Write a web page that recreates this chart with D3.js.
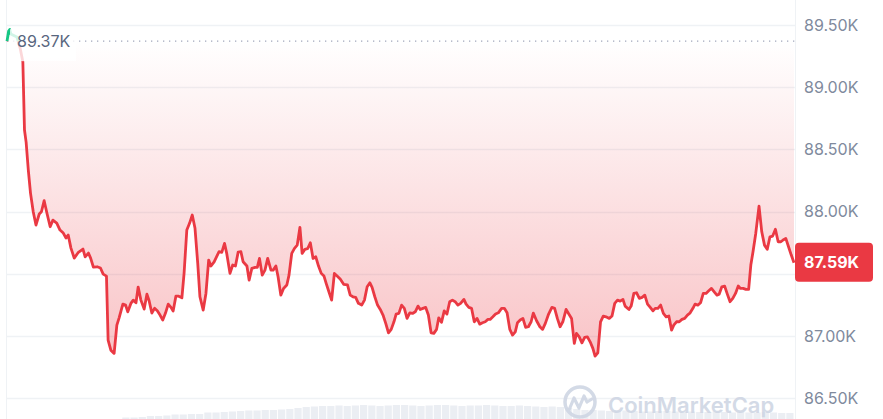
<!DOCTYPE html>
<html>
<head>
<meta charset="utf-8">
<script src="https://cdn.jsdelivr.net/npm/d3@7"></script>
<style>
  html, body { margin: 0; padding: 0; background: #fff; }
  svg { display: block; font-family: Inter, "Noto Sans", sans-serif; }
</style>
</head>
<body>
<svg id="chart" width="883" height="419"></svg>
<script>
// ---- data (time in minutes from start, price in thousands USD) ----
const minutes = [0,3,5,7,18,24,29,32,35,39,43,48,53,59,63,68,73,79,84,91,97,103,108,112,117,123,130,139,143,149,153,158,165,171,176,182,185,190,196,201,205,212,217,221,227,231,236,240,245,251,256,260,265,270,275,280,285,290,295,300,304,309,314,320,324,329,334,339,344,349,353,359,364,369,373,379,384,388,393,398,402,408,413,418,423,428,432,439,443,448,454,458,462,467,472,477,483,487,492,496,501,506,512,516,521,526,531,536,540,545,550,555,560,565,570,575,580,584,589,594,599,604,610,616,623,628,633,638,643,649,654,659,664,668,673,678,683,688,693,698,703,708,712,717,722,727,732,737,742,747,752,756,761,766,771,776,781,786,790,795,800,805,810,815,820,825,830,836,840,845,850,855,860,865,870,875,880,884,889,894,899,905,910,915,920,925,930,934,939,944,949,954,959,963,969,975,980,985,991,997,1002,1007,1012,1017,1023,1028,1033,1038,1042,1047,1052,1057,1062,1067,1072,1076,1081,1086,1091,1096,1102,1107,1112,1117,1122,1127,1131,1138,1142,1147,1152,1157,1162,1167,1172,1177,1182,1186,1191,1196,1201,1206,1211,1216,1220,1225,1230,1235,1240,1245,1250,1255,1259,1264,1269,1274,1279,1284,1289,1294,1299,1303,1308,1313,1318,1323,1328,1333,1338,1342,1347,1352,1357,1361,1365,1370,1376,1381,1386,1391,1396,1401,1406,1411,1416,1420,1425,1430,1435,1440];
const prices = [89.37,89.452,89.464,89.428,89.404,89.315,89.205,88.656,88.559,88.334,88.149,87.999,87.892,87.981,87.999,88.088,87.989,87.879,87.932,87.908,87.852,87.828,87.788,87.812,87.707,87.627,87.670,87.699,87.637,87.667,87.627,87.555,87.557,87.547,87.498,87.482,86.968,86.887,86.861,87.088,87.145,87.257,87.249,87.195,87.265,87.289,87.268,87.394,87.289,87.217,87.337,87.284,87.185,87.223,87.203,87.169,87.129,87.185,87.257,87.231,87.201,87.321,87.321,87.308,87.504,87.852,87.906,87.973,87.866,87.584,87.316,87.209,87.343,87.611,87.563,87.597,87.643,87.678,87.673,87.745,87.665,87.504,87.571,87.563,87.675,87.678,87.597,87.563,87.450,87.544,87.552,87.552,87.624,87.490,87.530,87.624,87.530,87.530,87.563,87.477,87.329,87.383,87.410,87.490,87.665,87.705,87.731,87.874,87.665,87.697,87.702,87.750,87.624,87.637,87.563,87.504,87.482,87.424,87.356,87.289,87.504,87.482,87.456,87.416,87.412,87.329,87.316,87.311,87.263,87.249,87.289,87.396,87.428,87.391,87.316,87.249,87.214,87.169,87.102,87.026,87.054,87.115,87.177,87.182,87.249,87.223,87.142,87.187,87.182,87.195,87.241,87.214,87.223,87.231,87.169,87.026,87.022,87.054,87.147,87.110,87.203,87.177,87.276,87.289,87.276,87.249,87.263,87.295,87.257,87.231,87.223,87.115,87.142,87.096,87.107,87.115,87.134,87.134,87.155,87.177,87.187,87.223,87.223,87.187,87.054,87.008,87.034,87.107,87.129,87.142,87.070,87.075,87.115,87.185,87.123,87.075,87.054,87.102,87.177,87.231,87.223,87.142,87.075,87.115,87.214,87.177,87.142,86.941,87.022,86.994,86.946,86.989,86.994,86.954,86.901,86.839,86.866,87.115,87.161,87.155,87.142,87.161,87.263,87.289,87.281,87.295,87.241,87.214,87.241,87.343,87.348,87.303,87.311,87.329,87.257,87.231,87.203,87.223,87.223,87.249,87.182,87.155,87.161,87.048,87.088,87.115,87.115,87.134,87.142,87.169,87.187,87.223,87.257,87.249,87.268,87.343,87.343,87.364,87.383,87.356,87.329,87.337,87.396,87.402,87.337,87.276,87.303,87.343,87.402,87.383,87.383,87.375,87.375,87.571,87.678,87.825,88.045,87.838,87.731,87.697,87.798,87.804,87.858,87.758,87.758,87.772,87.785,87.718,87.651,87.590];
// volume per 15-minute bucket (relative units)
const volumes = [0,0,0,0,0,0,0,0,0,0,0,0,0,0,1.5,1.5,2,3,3,3.5,4.5,4.5,5,5,6.5,6.5,7,7.5,8,8.5,8.5,9,9,9.5,10,11,12,12.5,13,13,13.5,13,13.5,14,13.5,13,13.5,14,14,13.5,13,13.5,14,14,13.5,13,13.5,13.5,14,13.5,13,13,13.5,13,12.5,12,12.5,12,11,10,9,9,8.5,8,8,8.5,8,7.5,7.5,8,8,7.5,7,7.5,7,7,7.5,7,6.5,7,6.5,6.5,7,6.5,6,6];
const yTicks = [86.5, 87.0, 87.5, 88.0, 88.5, 89.0, 89.5];
const openPrice = 89.37;
const lastPrice = 87.59;

const data = minutes.map((m, i) => ({ m, p: prices[i] }));

const W = 883, H = 419;
const left = 7, right = 794, gridRight = 795;
const svg = d3.select('#chart');

const x = d3.scaleLinear().domain([0, 1440]).range([left, right]);
const y = d3.scaleLinear().domain([86.5, 89.5]).range([398.3, 25]);
const fmt = v => v.toFixed(2) + 'K';

const defs = svg.append('defs');
const baseY = y(openPrice);

const gRed = defs.append('linearGradient').attr('id', 'gRed')
  .attr('gradientUnits', 'userSpaceOnUse').attr('x1', 0).attr('x2', 0)
  .attr('y1', baseY).attr('y2', y(86.84));
gRed.append('stop').attr('offset', 0).attr('stop-color', '#ea3943').attr('stop-opacity', 0.0);
gRed.append('stop').attr('offset', 1).attr('stop-color', '#ea3943').attr('stop-opacity', 0.3);
const gGreen = defs.append('linearGradient').attr('id', 'gGreen')
  .attr('gradientUnits', 'userSpaceOnUse').attr('x1', 0).attr('x2', 0)
  .attr('y1', baseY).attr('y2', y(89.5));
gGreen.append('stop').attr('offset', 0).attr('stop-color', '#16c784').attr('stop-opacity', 0.0);
gGreen.append('stop').attr('offset', 1).attr('stop-color', '#16c784').attr('stop-opacity', 0.3);

defs.append('clipPath').attr('id', 'clipBelow').append('rect')
  .attr('x', 0).attr('y', baseY).attr('width', W).attr('height', H - baseY);
defs.append('clipPath').attr('id', 'clipAbove').append('rect')
  .attr('x', 0).attr('y', 0).attr('width', W).attr('height', baseY);

// frame lines
svg.append('line').attr('x1', 6.5).attr('x2', 6.5).attr('y1', 0).attr('y2', H)
  .attr('stroke', '#eff2f5').attr('stroke-width', 1);
svg.append('line').attr('x1', 795.5).attr('x2', 795.5).attr('y1', 0).attr('y2', H)
  .attr('stroke', '#eff2f5').attr('stroke-width', 1);

// grid
svg.append('g').selectAll('line').data(yTicks).join('line')
  .attr('x1', left).attr('x2', gridRight)
  .attr('y1', d => Math.round(y(d)) + 0.5).attr('y2', d => Math.round(y(d)) + 0.5)
  .attr('stroke', '#eff2f5').attr('stroke-width', 1.5);

// volume bars
const vx = d3.scaleLinear().domain([0, volumes.length]).range([left, right]);
const vy = d3.scaleLinear().domain([0, 20]).range([H, H - 20]);
svg.append('g').selectAll('rect').data(volumes).join('rect')
  .attr('x', (d, i) => vx(i) + 0.5).attr('width', (right - left) / volumes.length - 1)
  .attr('y', d => vy(d)).attr('height', d => H - vy(d))
  .attr('fill', '#e3e7ee').attr('opacity', 0.7);

// areas
const area = d3.area().x(d => x(d.m)).y0(baseY).y1(d => y(d.p)).curve(d3.curveLinear);
svg.append('path').datum(data).attr('d', area).attr('fill', 'url(#gRed)').attr('clip-path', 'url(#clipBelow)');
svg.append('path').datum(data).attr('d', area).attr('fill', 'url(#gGreen)').attr('clip-path', 'url(#clipAbove)');

// open price dotted line
svg.append('line').attr('x1', left).attr('x2', gridRight).attr('y1', baseY).attr('y2', baseY)
  .attr('stroke', '#a1a7bb').attr('stroke-width', 1.3).attr('stroke-dasharray', '1.3,4.7');

// price line
const line = d3.line().x(d => x(d.m)).y(d => y(d.p)).curve(d3.curveLinear);
svg.append('path').datum(data).attr('d', line).attr('fill', 'none')
  .attr('stroke', '#ea3943').attr('stroke-width', 2.8).attr('stroke-linejoin', 'round')
  .attr('clip-path', 'url(#clipBelow)');
svg.append('path').datum(data).attr('d', line).attr('fill', 'none')
  .attr('stroke', '#16c784').attr('stroke-width', 2.8).attr('stroke-linejoin', 'round')
  .attr('clip-path', 'url(#clipAbove)');

// open price label
svg.append('rect').attr('x', 10).attr('y', baseY - 12).attr('width', 66).attr('height', 32)
  .attr('fill', '#fff').attr('opacity', 0.8);
svg.append('text').attr('x', 17).attr('y', baseY).attr('dy', '0.36em')
  .attr('font-size', 16).attr('fill', '#58667e').text(fmt(openPrice));

// y axis labels (the one under the last-price badge is hidden, as in the source)
const by = y(lastPrice);
svg.append('g').selectAll('text').data(yTicks.filter(d => Math.abs(y(d) - by) > 22)).join('text')
  .attr('x', 804).attr('y', d => y(d)).attr('dy', '0.36em')
  .attr('font-size', 16).attr('fill', '#808a9d').text(fmt);

// last price badge
svg.append('rect').attr('x', 795).attr('y', by - 20).attr('width', 78).attr('height', 39)
  .attr('rx', 4).attr('fill', '#ea3943');
svg.append('text').attr('x', 804).attr('y', by).attr('dy', '0.36em')
  .attr('font-size', 16).attr('font-weight', 700).attr('fill', '#fff').text(fmt(lastPrice));

// watermark
const wm = svg.append('g').attr('opacity', 0.9);
wm.append('circle').attr('cx', 580).attr('cy', 402).attr('r', 15)
  .attr('fill', 'none').attr('stroke', '#cfd6e4').attr('stroke-width', 3.5);
wm.append('path').attr('d', 'M569,410 L574,398 L579,408 L584,396 L587,402 L592,399')
  .attr('fill', 'none').attr('stroke', '#cfd6e4').attr('stroke-width', 3.2)
  .attr('stroke-linejoin', 'round').attr('stroke-linecap', 'round');
wm.append('text').attr('x', 608).attr('y', 413).attr('font-size', 22).attr('font-weight', 600)
  .attr('fill', '#cfd6e4').text('CoinMarketCap');
</script>
</body>
</html>
